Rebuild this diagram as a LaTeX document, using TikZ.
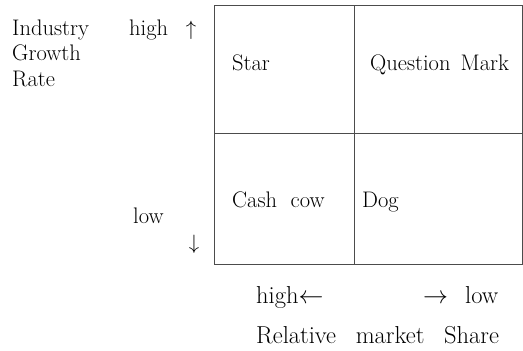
\documentclass[tikz,border=0pt]{standalone}
\usepackage{fontspec}
\begin{document}
\begin{tikzpicture}[x=1pt,y=-1pt,
  cell/.style={draw=black!70, line width=0.9pt, minimum width=#1, anchor=north west, inner sep=0pt, outer sep=0pt},
  lbl/.style={anchor=base west, inner sep=0pt, font=\fontsize{22.5}{25.5}\selectfont},
  biglbl/.style={lbl, font=\fontsize{24.5}{28}\selectfont}]
\useasboundingbox (0,0) rectangle (523,351);
% cells
\node[cell=139.5, minimum height=128] (c11) at (214.5,5.5) {};
\node[cell=168, minimum height=128] (c12) at (354,5.5) {};
\node[cell=139.5, minimum height=131] (c21) at (214.5,133.5) {};
\node[cell=168, minimum height=131] (c22) at (354,133.5) {};
% cell labels
\node[lbl] (star) at (232,70) {Star};
\node[lbl] (qm) at (370,70) {Question\hspace{0.45em}Mark};
\node[lbl] (cow) at (232,207) {Cash\hspace{0.6em}cow};
\node[lbl] (dog) at (362,207) {Dog};
% axis labels left
\node[lbl, align=left, anchor=north west] (igr) at (12,19.5) {Industry\\Growth\\Rate};
\node[lbl] (high) at (129,35) {high};
\node[lbl, anchor=base] (up) at (191,35) {$\uparrow$};
\node[lbl] (low) at (133,223) {low};
\node[lbl, anchor=base] (down) at (194,249) {$\downarrow$};
% axis labels bottom
\node[biglbl] (highb) at (256,303) {high$\leftarrow$};
\node[biglbl, anchor=base east] (lowb) at (498.5,303) {$\rightarrow$\hspace{0.7em}low};
\node[biglbl] (rms) at (256,343) {Relative\hspace{0.8em}market\hspace{0.8em}Share};
\end{tikzpicture}
\end{document}
